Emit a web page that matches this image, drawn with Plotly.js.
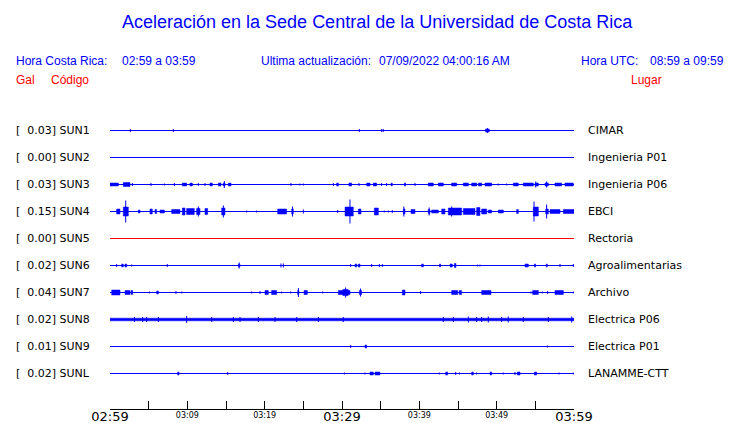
<!DOCTYPE html>
<html><head><meta charset="utf-8">
<script src="https://cdn.plot.ly/plotly-3.0.1.min.js"></script>
<style>html,body{margin:0;padding:0;background:#fff}#chart{width:740px;height:423px}</style>
</head><body><div id="chart"></div>
<script>
// ---- data ----
const stationCodes = ['SUN1','SUN2','SUN3','SUN4','SUN5','SUN6','SUN7','SUN8','SUN9','SUNL'];
const galValues = [0.03, 0.00, 0.03, 0.15, 0.00, 0.02, 0.04, 0.02, 0.01, 0.02];
const places = ['CIMAR','Ingenieria P01','Ingenieria P06','EBCI','Rectoria','Agroalimentarias','Archivo','Electrica P06','Electrica P01','LANAMME-CTT'];
const stationColors = ['#0000ff','#0000ff','#0000ff','#0000ff','#ff0000','#0000ff','#0000ff','#0000ff','#0000ff','#0000ff'];
// minutes after 02:59 (local)
const majorTickMinutes = [0, 30, 60];
const majorTickLabels = ['02:59', '03:29', '03:59'];
const minorTickMinutes = [10, 20, 40, 50];
const minorTickLabels = ['03:09', '03:19', '03:39', '03:49'];
const allTickMinutes = [0, 5, 10, 15, 20, 25, 30, 35, 40, 45, 50, 55, 60];
// bursts: [start minute, end minute, half amplitude (display units)]; start==end -> spike
const bursts_SUN1 = [[2.63,2.63,1.5],[8.19,8.19,1.5],[32.24,32.24,1.5],[35.13,35.13,1.5],[35.34,35.34,1.5],[48.55,49.05,1.5],[48.8,48.8,2.5]];
const bursts_SUN2 = [];
const bursts_SUN3 = [[0,1.08,1.5],[1.72,2.59,2],[2.89,2.89,1.5],[5.3,5.3,1.5],[7.03,7.03,1],[8.32,8.32,1.5],[9.35,9.91,1.5],[10.34,10.65,1.5],[11.42,11.42,1.5],[12.28,12.28,1.5],[12.93,13.23,1.5],[14.01,14.35,1.5],[14.65,14.87,1.5],[14.78,14.78,3.5],[15.3,15.65,1.5],[23.4,23.4,1.5],[24.57,24.57,1],[25.0,25.0,1],[28.88,28.88,1.5],[29.31,29.53,1.5],[30.9,31.25,1.5],[32.2,32.2,1.5],[33.19,33.62,1.5],[34.05,34.48,1.5],[35.13,35.13,1.5],[35.77,35.77,1.5],[36.35,36.5,1.5],[38.06,38.23,1.5],[39.44,39.44,1.5],[41.16,41.81,1.5],[42.46,43.1,1.5],[44.18,44.83,1.5],[45.69,46.34,1.5],[46.77,47.41,1.5],[47.63,48.06,1.5],[48.49,49.35,1.5],[50.2,50.2,1],[51.3,51.3,1],[52.15,52.8,1.5],[53.44,54.74,1.5],[54.96,55.39,1.5],[55.05,55.05,3],[56.25,56.68,1.5],[56.46,56.46,3],[57.54,58.4,1.5],[58.83,59.91,1.5]];
const bursts_SUN4 = [[0.86,1.29,2.5],[1.72,2.37,4.5],[2.03,2.03,11],[3.66,3.88,1.5],[5.17,5.47,2.5],[5.82,6.03,2],[6.47,7.03,1.5],[7.97,9.05,2],[9.35,9.7,3.5],[9.91,10.9,3],[11.2,11.64,3],[11.42,11.42,5],[12.28,12.63,3],[14.44,14.87,3.5],[14.66,14.66,6],[17.67,17.67,1],[18.96,18.96,1],[21.68,22.84,2.5],[23.49,23.71,2.5],[23.6,23.6,5],[25.0,25.0,2],[29.44,29.44,1.5],[30.39,31.46,4.5],[31.03,31.03,12],[32.11,32.46,2.5],[34.18,34.7,3.5],[35.47,35.47,1],[35.99,35.99,1],[36.5,36.5,1.5],[37.93,38.15,2.5],[38.0,38.0,5],[38.92,39.44,2],[41.16,41.38,2],[41.27,41.27,4],[41.59,42.46,1.5],[42.89,43.32,2.5],[43.75,45.47,3.5],[44.18,44.18,5],[45.69,47.2,3],[47.41,47.84,4],[48.06,48.71,2.5],[48.92,49.35,1.5],[50.21,50.86,1.5],[52.58,52.8,2],[54.74,55.39,4.5],[54.83,54.83,10],[56.34,56.68,2.5],[56.46,56.46,7],[56.9,58.19,2],[58.62,60,2]];
const bursts_SUN5 = [];
const bursts_SUN6 = [[0.86,0.86,1.5],[1.51,1.72,1.5],[1.94,2.16,1.5],[2.8,2.8,1],[7.41,7.41,1.5],[16.6,16.81,1.5],[16.7,16.7,3],[22.11,22.11,2],[22.41,22.41,2],[31.12,31.12,1.5],[31.68,31.9,1.5],[32.11,32.33,1.5],[33.84,33.84,1.5],[34.83,34.83,1.5],[35.22,35.22,1.5],[40.3,40.52,1.5],[42.6,42.75,1.5],[43.97,44.27,1.5],[44.53,44.74,2],[47.54,47.54,1],[47.84,47.84,1],[53.66,54.1,1.5],[54.87,55.04,1.5],[56.4,56.55,1.5],[58.19,58.19,1.5],[59.91,59.91,1.5]];
const bursts_SUN7 = [[0.22,1.29,2.5],[1.94,2.59,2],[2.72,2.93,2],[5.09,5.09,1],[6.03,6.25,1.5],[8.53,8.53,1.5],[9.27,9.27,1],[18.32,18.32,1],[19.4,19.4,1.5],[20.04,20.47,2],[20.9,21.55,2],[22.2,22.2,1],[23.36,23.36,1],[24.27,24.44,2],[24.36,24.36,4.5],[25.09,25.52,2],[27.5,27.5,1],[29.53,31.03,2],[30.1,30.8,3],[30.47,30.47,5],[32.24,32.54,2],[32.4,32.4,4],[37.8,38.15,2.5],[40.17,40.17,1.5],[44.18,44.96,2],[45.15,45.47,2],[48.06,49.27,2],[54.44,54.44,1],[54.65,55.39,2],[55.9,55.9,1],[56.59,56.59,1.5],[57.54,58.62,2],[59.91,59.91,1]];
const bursts_SUN8 = [[0,60,1.3],[3.15,3.15,2.5],[4.22,4.22,2.5],[4.74,4.74,2.5],[6.25,6.25,2.5],[9.91,9.91,3.5],[13.15,13.15,2.5],[15.95,15.95,2.5],[16.81,16.81,2.5],[19.18,19.18,2.5],[21.34,21.34,2.5],[24.14,24.14,2.5],[26.94,26.94,2.5],[30.17,30.17,2.5],[43.1,43.1,2.5],[44.4,44.4,2.5],[46.34,46.34,3],[47.41,47.41,2.5],[48.06,48.06,2.5],[48.92,48.92,3],[50.64,50.64,2.5],[51.5,51.5,3],[53.44,53.44,2.5],[56.68,56.68,2.5],[59.7,59.7,3]];
const bursts_SUN9 = [[31.12,31.12,1.5],[32.97,33.19,1.5],[56.55,56.55,1]];
const bursts_SUNL = [[8.75,8.92,1.5],[15.22,15.22,1.5],[30.3,30.3,1],[32.97,32.97,1],[33.62,34.05,1.5],[34.27,34.91,1.5],[42.59,42.59,1],[43.4,43.66,1.5],[44.7,44.7,1.5],[45.17,45.17,1],[46.77,46.98,1.5],[47.41,47.41,1],[49.14,49.35,1.5],[50.86,50.86,1],[52.37,52.37,1.5],[52.67,53.02,1.5],[54.87,55.17,1.5],[58.06,58.06,1],[59.91,59.91,1]];
const burstsByStation = [bursts_SUN1,bursts_SUN2,bursts_SUN3,bursts_SUN4,bursts_SUN5,bursts_SUN6,bursts_SUN7,bursts_SUN8,bursts_SUN9,bursts_SUNL];

const headerTitle = 'Aceleración en la Sede Central de la Universidad de Costa Rica';
const localLabel = 'Hora Costa Rica:', localRange = '02:59 a 03:59';
const updateLabel = 'Ultima actualización:', updateValue = '07/09/2022 04:00:16 AM';
const utcLabel = 'Hora UTC:', utcRange = '08:59 a 09:59';

// ---- layout helpers ----
const W = 740, H = 423;
const rowTop = 130.5, rowStep = 27;          // pixel geometry of trace rows
const ampScale = 1 / rowStep;                // display amplitude unit -> row units
const px = v => v / W;
const py = v => 1 - v / H;

const traces = [];
stationCodes.forEach((code, i) => {
  const col = stationColors[i];
  traces.push({x: [0, 60], y: [i, i], mode: 'lines', type: 'scatter',
    line: {color: col, width: 1}, hoverinfo: 'skip', xaxis: i === 4 ? 'x2' : 'x'});
  const bx = [], by = [], sx = [], sy = [];
  burstsByStation[i].forEach(([t0, t1, a]) => {
    const lo = i - a * ampScale, hi = i + a * ampScale;
    if (t0 === t1) { sx.push(t0, t0, null); sy.push(lo, hi, null); }
    else { bx.push(t0, t1, t1, t0, t0, null); by.push(lo, lo, hi, hi, lo, null); }
  });
  if (bx.length) traces.push({x: bx, y: by, mode: 'lines', type: 'scatter', fill: 'toself',
    fillcolor: col, line: {color: col, width: 0.5}, hoverinfo: 'skip'});
  if (sx.length) traces.push({x: sx, y: sy, mode: 'lines', type: 'scatter',
    line: {color: col, width: 1}, hoverinfo: 'skip'});
});

const annFont = (size, color, family) => ({size, color, family: family || 'Liberation Sans, Arial, sans-serif'});
const annotations = [];
const addPaper = (text, x, y, xanchor, size, color) => annotations.push({text, xref: 'paper', yref: 'paper',
  x: px(x), y: py(y), xanchor, yanchor: 'middle', showarrow: false, font: annFont(size, color)});
addPaper(headerTitle, 377, 22, 'center', 18, '#0000ff');
addPaper(localLabel, 14, 61, 'left', 12, '#0000ff');
addPaper(localRange, 120, 61, 'left', 12, '#0000ff');
addPaper(updateLabel, 259, 61, 'left', 12, '#0000ff');
addPaper(updateValue, 377, 61, 'left', 12, '#0000ff');
addPaper(utcLabel, 579, 61, 'left', 12, '#0000ff');
addPaper(utcRange, 726, 61, 'right', 12, '#0000ff');
addPaper('Gal', 14, 80, 'left', 12, '#ff0000');
addPaper('Código', 49, 80, 'left', 12, '#ff0000');
addPaper('Lugar', 664, 80, 'right', 12, '#ff0000');
stationCodes.forEach((code, i) => {
  annotations.push({text: '[\u00a0\u00a0' + galValues[i].toFixed(2) + '] ' + code, xref: 'paper', yref: 'y',
    x: px(14), y: i, xanchor: 'left', yanchor: 'middle', showarrow: false, font: annFont(11, '#000', 'DejaVu Sans')});
  annotations.push({text: places[i], xref: 'paper', yref: 'y',
    x: px(586), y: i, xanchor: 'left', yanchor: 'middle', showarrow: false, font: annFont(11, '#000', 'DejaVu Sans')});
});

const axisPos = 1 - 409 / H;
const xDomain = [px(110), px(574)];
const layout = {
  width: W, height: H, margin: {l: 0, r: 0, t: 0, b: 0},
  paper_bgcolor: '#fff', plot_bgcolor: '#fff', showlegend: false, hovermode: false,
  xaxis: {domain: xDomain, range: [0, 60], anchor: 'free', position: axisPos,
    showline: true, linecolor: '#000', linewidth: 1, ticks: 'inside', ticklen: 8, tickwidth: 1, tickcolor: '#000',
    tickmode: 'array', tickvals: allTickMinutes, ticklabelstandoff: -5,
    ticktext: allTickMinutes.map(m => { const k = majorTickMinutes.indexOf(m); return k >= 0 ? majorTickLabels[k] : ''; }),
    tickfont: {family: 'DejaVu Sans', size: 13, color: '#000'}, showgrid: false, zeroline: false, fixedrange: true},
  xaxis2: {overlaying: 'x', range: [0, 60], anchor: 'free', position: axisPos,
    showline: false, ticks: '', tickmode: 'array', tickvals: minorTickMinutes, ticktext: minorTickLabels,
    tickfont: {family: 'DejaVu Sans', size: 8, color: '#000'}, showgrid: false, zeroline: false, fixedrange: true},
  yaxis: {domain: [0, 1], range: [(H - rowTop) / rowStep, -rowTop / rowStep], visible: false, fixedrange: true},
  annotations
};
Plotly.newPlot('chart', traces, layout, {staticPlot: true, displayModeBar: false});
</script></body></html>
